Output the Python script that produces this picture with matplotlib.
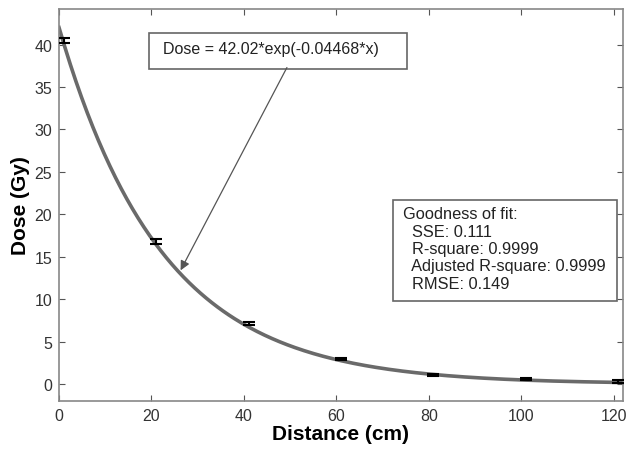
import numpy as np
import matplotlib.pyplot as plt
from matplotlib.patches import Rectangle

plt.rcParams['font.family'] = ['Liberation Sans', 'DejaVu Sans']

distance = [1, 21, 41, 61, 81, 101, 121]
dose = [40.5, 16.8, 7.15, 2.95, 1.05, 0.6, 0.3]
dose_err = [0.25, 0.25, 0.15, 0.15, 0.15, 0.15, 0.15]
a, b = 42.02, -0.04468
xticks = [0, 20, 40, 60, 80, 100, 120]
yticks = [0, 5, 10, 15, 20, 25, 30, 35, 40]
fit_label = "Dose = 42.02*exp(-0.04468*x)"
gof_text = "Goodness of fit:\n  SSE: 0.111\n  R-square: 0.9999\n  Adjusted R-square: 0.9999\n  RMSE: 0.149"

fig = plt.figure(figsize=(6.27, 4.52), dpi=100)
ax = fig.add_axes([59/627, 1-402/452, (623-59)/627, (402-10)/452])

xs = np.linspace(0, 122, 300)
ax.plot(xs, a*np.exp(b*xs), color='#6a6a6a', lw=2.6, zorder=2)
ax.errorbar(distance, dose, yerr=dose_err, fmt='none', ecolor='black',
            elinewidth=1.5, capsize=4, capthick=1.5, zorder=3)

ax.set_xlim(0, 122)
ax.set_ylim(-2, 44.2)
ax.set_xticks(xticks)
ax.set_yticks(yticks)
ax.tick_params(direction='in', length=4, top=True, right=True,
               labelsize=11.5, color='#555555', labelcolor='#333333', pad=5)
for s in ax.spines.values():
    s.set_color('#888888')
    s.set_linewidth(1.2)

ax.set_xlabel('Distance (cm)', fontsize=15, fontweight='bold', labelpad=1)
ax.set_ylabel('Dose (Gy)', fontsize=15, fontweight='bold', labelpad=3)

# equation box + arrow
ax.add_patch(Rectangle((0.160, 0.847), 0.457, 0.092, transform=ax.transAxes,
                       fc='white', ec='#666666', lw=1.2, zorder=4))
ax.text(0.184, 0.898, fit_label, transform=ax.transAxes, fontsize=11.5,
        color='#222222', va='center', ha='left', zorder=5)
ax.annotate('', xy=(26.3, 13.4), xytext=(49.3, 37.3),
            arrowprops=dict(arrowstyle='-|>', color='#555555', lw=0.9,
                            shrinkA=0, shrinkB=0, mutation_scale=14), zorder=4)

# goodness of fit box
ax.add_patch(Rectangle((0.592, 0.255), 0.397, 0.258, transform=ax.transAxes,
                       fc='white', ec='#666666', lw=1.2, zorder=4))
ax.text(0.610, 0.497, gof_text, transform=ax.transAxes, fontsize=11.8,
        color='#222222', va='top', ha='left', linespacing=1.2, zorder=5)

fig.savefig('out.png', dpi=100)
